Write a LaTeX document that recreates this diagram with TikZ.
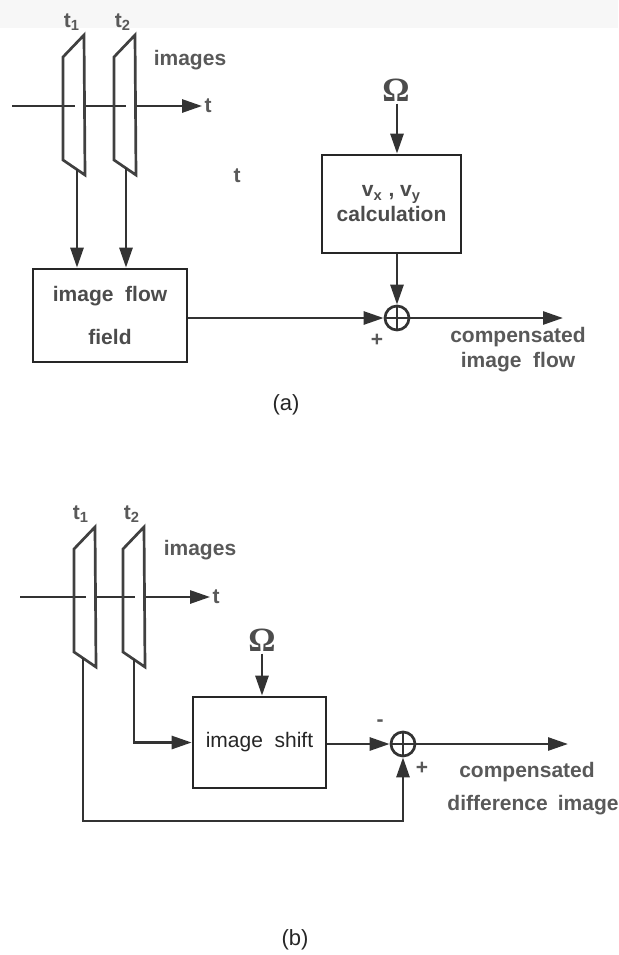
\documentclass[tikz,border=0pt]{standalone}
\usepackage{fontspec}
\setmainfont{Liberation Sans}
\newfontfamily\omegafont{Liberation Serif}
\usetikzlibrary{positioning,calc,arrows.meta}

\tikzset{
  line/.style={draw=black!80, line width=1.35pt},
  arr/.style={line, -{Triangle[length=10pt,width=6.5pt]}},
  imgframe/.style={draw=black!75, line width=1.35pt, line join=miter},
  blockbox/.style={draw=black!85, line width=1.35pt, align=center, inner sep=0pt,
    text=black!70, font=\fontsize{10.5}{12.5}\selectfont\bfseries},
  lbl/.style={text=black!65, font=\fontsize{10.5}{12.5}\selectfont\bfseries, inner sep=1pt},
  omega/.style={text=black!70, font=\omegafont\fontsize{17}{20}\selectfont\bfseries, inner sep=1pt},
  sumnode/.style={circle, draw=black!80, line width=1.35pt, minimum size=12pt, inner sep=0pt},
  caption/.style={text=black!85, font=\fontsize{11}{13}\selectfont},
}

\begin{document}
\begin{tikzpicture}[x=0.5pt, y=-0.5pt]

\useasboundingbox (0,0) rectangle (618,955);
\fill[black!3] (0,0) rectangle (618,28);

% time axes, broken where they pass behind the frames
\node[lbl] (ta) at (208,106) {t};
\draw[arr] (12,106) -- (ta.west);
\node[lbl] (tb) at (216,597) {t};
\draw[arr] (20,597) -- (tb.west);
\foreach \x/\y in {63/106,114/106,74/597,123/597}
  \draw[white, line width=3pt] (\x+12,\y) -- (\x+20,\y);

% image frames
\foreach \x/\y in {63/0,114/0,74/492,123/492}
  \draw[imgframe] (\x,\y+57) -- (\x+21,\y+35) -- (\x+22,\y+175) -- (\x,\y+160) -- cycle;

\coordinate (a1) at (77,169);
\coordinate (a2) at (126,168);
\coordinate (b1) at (83,658);
\coordinate (b2) at (134,659);

% ---------- (a) ----------
\node[lbl] (t1a) at (72,22) {t\textsubscript{1}};
\node[lbl] (t2a) at (123,22) {t\textsubscript{2}};
\node[lbl] (imgA) at (190,60) {images};
\node[lbl] (tstray) at (237,176) {t};

\node[blockbox, minimum width=77pt, minimum height=46.5pt] (flowA) at (110,315.5)
  {image~~flow\\[9pt]field};
\node[blockbox, minimum width=69.5pt, minimum height=49pt] (calcA) at (391.5,204)
  {v\textsubscript{x}~,~v\textsubscript{y}\\calculation};
\node[omega] (omA) at (396,90) {Ω};
\node[sumnode] (sumA) at (397,318) {};
\draw[line] (sumA.north) -- (sumA.south) (sumA.west) -- (sumA.east);
\coordinate (outA) at (563,318);

\draw[arr] (a1) -- (a1 |- flowA.north);
\draw[arr] (a2) -- (a2 |- flowA.north);
\draw[arr] (omA.south -| sumA) -- (sumA |- calcA.north);
\draw[arr] (sumA |- calcA.south) -- (sumA.north);
\draw[arr] (flowA.east |- sumA) -- (sumA.west);
\draw[arr] (sumA.east) -- (outA);

\node[lbl] (plusA) at (377,340) {+};
\node[lbl, align=center] (resA) at (518,350) {compensated\\image~~flow};
\node[caption] (capA) at (286,405) {(a)};

% ---------- (b) ----------
\node[lbl] (t1b) at (81,514) {t\textsubscript{1}};
\node[lbl] (t2b) at (132,514) {t\textsubscript{2}};
\node[lbl] (imgB) at (200,550) {images};

\node[blockbox, minimum width=66.5pt, minimum height=45.5pt,
  font=\fontsize{10.5}{12.5}\selectfont, text=black!85] (shiftB) at (259.5,742.5) {image~~shift};
\node[omega] (omB) at (262,640) {Ω};
\node[sumnode] (sumB) at (403,744) {};
\draw[line] (sumB.north) -- (sumB.south) (sumB.west) -- (sumB.east);
\coordinate (outB) at (568,744);
\coordinate (botB) at (403,821);

\draw[arr] (omB.south) -- (omB.south |- shiftB.north);
\draw[arr] (b2) |- (shiftB.west);
\draw[arr] (shiftB.east |- sumB) -- (sumB.west);
\draw[arr] (b1) |- (botB) -- (sumB.south);
\draw[arr] (sumB.east) -- (outB);

\node[lbl] (minusB) at (380,723) {-};
\node[lbl] (plusB) at (422,768) {+};
\node[lbl] (compB) at (527,772) {compensated};
\node[lbl] (diffB) at (533,805) {difference\hspace{5pt}image};
\node[caption] (capB) at (295,940) {(b)};

\end{tikzpicture}
\end{document}
